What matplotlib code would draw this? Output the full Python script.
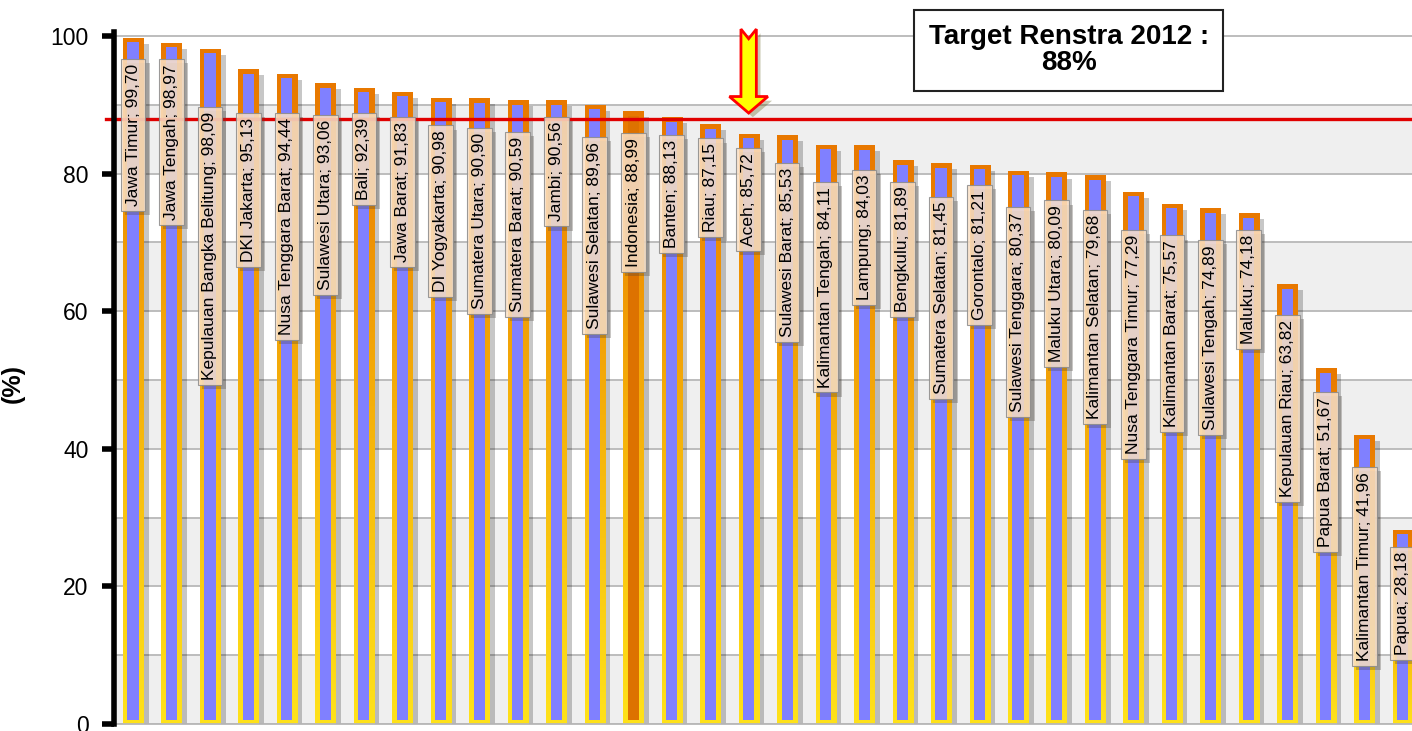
import numpy as np
import matplotlib
matplotlib.use("Agg")
import matplotlib.pyplot as plt
from matplotlib.patches import Polygon
import matplotlib.patheffects as pe

plt.rcParams['font.family'] = ['Liberation Sans', 'DejaVu Sans']

# data (cakupan per provinsi, %)
provinces = ["Jawa Timur", "Jawa Tengah", "Kepulauan Bangka Belitung", "DKI Jakarta",
             "Nusa Tenggara Barat", "Sulawesi Utara", "Bali", "Jawa Barat", "DI Yogyakarta",
             "Sumatera Utara", "Sumatera Barat", "Jambi", "Sulawesi Selatan", "Indonesia",
             "Banten", "Riau", "Aceh", "Sulawesi Barat", "Kalimantan Tengah", "Lampung",
             "Bengkulu", "Sumatera Selatan", "Gorontalo", "Sulawesi Tenggara", "Maluku Utara",
             "Kalimantan Selatan", "Nusa Tenggara Timur", "Kalimantan Barat", "Sulawesi Tengah",
             "Maluku", "Kepulauan Riau", "Papua Barat", "Kalimantan Timur", "Papua"]
values = [99.70, 98.97, 98.09, 95.13, 94.44, 93.06, 92.39, 91.83, 90.98, 90.90,
          90.59, 90.56, 89.96, 88.99, 88.13, 87.15, 85.72, 85.53, 84.11, 84.03,
          81.89, 81.45, 81.21, 80.37, 80.09, 79.68, 77.29, 75.57, 74.89, 74.18,
          63.82, 51.67, 41.96, 28.18]
target = 88
target_text = "Target Renstra 2012 :\n88%"
highlight = "Indonesia"
arrow_at = "Aceh"

# where the label boxes start (top edge, in %)
label_top = [95.9, 95.9, 89.0, 88.1, 88.1, 87.8, 88.1, 87.5, 86.3, 85.9,
             85.3, 87.5, 84.6, 85.2, 84.9, 84.4, 83.0, 80.8, 78.1, 79.8,
             78.1, 75.9, 77.6, 74.4, 75.4, 74.0, 71.1, 70.3, 69.6, 71.1,
             58.7, 47.5, 36.6, 25.0]

fig = plt.figure(figsize=(14.12, 7.31), dpi=100)
ax = fig.add_axes([113.5 / 1412, 7 / 731, 1 - 113.5 / 1412, 724 / 731])
ax.set_xlim(-0.507, 33.24)
ax.set_ylim(0, 105.23)

# banded background
for y0 in range(0, 90, 20):
    ax.axhspan(y0, y0 + 10, color='#efefef', zorder=0, lw=0)
for y in range(0, 101, 10):
    ax.axhline(y, color='#b8b8b8', lw=1.3, zorder=0.5)

x = np.arange(len(values))
w_out = 0.52
w_in = 0.29
bord = 0.6

# gradient border: orange at top to yellow at bottom
grad = np.linspace(0, 1, 256).reshape(-1, 1)
cmap = matplotlib.colors.LinearSegmentedColormap.from_list('edge', ['#ffe21a', '#f5b00a', '#e87800'])

outer = ax.bar(x, values, w_out, color='#e87800', zorder=2, lw=0)
for p in outer:
    p.set_path_effects([pe.SimplePatchShadow(offset=(4, -4), shadow_rgbFace='k', alpha=0.22), pe.Normal()])
for xi, v in zip(x, values):
    ax.imshow(grad, cmap=cmap, aspect='auto', origin='lower',
              extent=[xi - w_out / 2, xi + w_out / 2, 0, v], zorder=2.5)

inner_colors = ['#dd7200' if n == highlight else '#8080ff' for n in provinces]
ax.bar(x, [v - 2 * bord for v in values], w_in, bottom=bord, color=inner_colors, zorder=3, lw=0)

# target line
ax.axhline(target, xmin=-0.006, xmax=1, color='#e00000', lw=2.4, zorder=4, clip_on=False)

# data labels
for xi, n, v, ly in zip(x, provinces, values, label_top):
    lbl = f"{n}; {v:.2f}".replace('.', ',')
    t = ax.text(xi, ly, lbl, rotation=90, ha='center', va='top', fontsize=12.5, zorder=6,
                bbox=dict(boxstyle='square,pad=0.28', fc='#fbe2c8', ec='#8a8a8a', lw=0.8, alpha=0.85))
    t.get_bbox_patch().set_path_effects([pe.SimplePatchShadow(offset=(3, -3), alpha=0.3), pe.Normal()])

# arrow pointing at the line
ai = provinces.index(arrow_at)
arrow = Polygon([[ai - 0.2, 101.0], [ai, 99.6], [ai + 0.2, 101.0], [ai + 0.2, 91.2],
                 [ai + 0.5, 91.2], [ai, 88.8], [ai - 0.5, 91.2], [ai - 0.2, 91.2]],
                closed=True, fc='#ffff00', ec='#ff0000', lw=2, zorder=7, clip_on=False)
arrow.set_path_effects([pe.SimplePatchShadow(offset=(3, -3), alpha=0.3), pe.Normal()])
ax.add_patch(arrow)

# target box
ax.text(24.32, 97.9, target_text, ha='center', va='center', fontsize=20, fontweight='bold',
        linespacing=1.0, zorder=8,
        bbox=dict(boxstyle='square,pad=0.52', fc='white', ec='#222222', lw=1.5))

# axes styling
for s in ['top', 'right']:
    ax.spines[s].set_visible(False)
ax.spines['bottom'].set_color('#b8b8b8')
ax.spines['bottom'].set_linewidth(1.3)
ax.spines['left'].set_linewidth(4)
ax.spines['left'].set_bounds(0, 100.6)
ax.spines['left'].set_zorder(5)
ax.set_yticks(range(0, 101, 20))
ax.tick_params(axis='y', length=9, width=4, labelsize=16.5, pad=9)
ax.set_xticks([])
ax.set_ylabel('(%)', fontsize=18, fontweight='bold')
ax.yaxis.set_label_coords(-0.068, 0.47)

fig.savefig('out.png', dpi=100)
